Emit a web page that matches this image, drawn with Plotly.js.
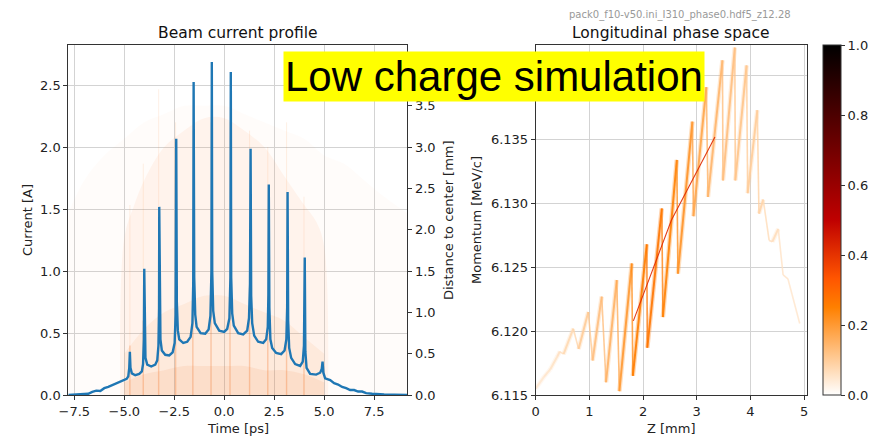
<!DOCTYPE html>
<html><head><meta charset="utf-8">
<script src="https://cdn.plot.ly/plotly-3.0.1.min.js"></script>
<style>body{margin:0;padding:0;background:#fff}#plot{width:869px;height:438px}</style>
</head><body><div id="plot"></div>
<script>
// ---- Beam current profile (time [ps], current [A]) ----
const cur_t = [-7.80,-7.50,-7.20,-7.00,-6.80,-6.60,-6.40,-6.20,-6.00,-5.80,-5.60,-5.40,-5.20,-5.00,-4.88,-4.80,-4.75,-4.72,-4.69,-4.62,-4.45,-4.25,-4.12,-4.06,-4.02,-4.00,-3.98,-3.94,-3.85,-3.65,-3.45,-3.35,-3.29,-3.26,-3.25,-3.23,-3.19,-3.12,-2.95,-2.75,-2.58,-2.48,-2.43,-2.40,-2.37,-2.32,-2.25,-2.05,-1.85,-1.68,-1.59,-1.55,-1.53,-1.50,-1.45,-1.38,-1.18,-0.95,-0.78,-0.69,-0.64,-0.62,-0.60,-0.55,-0.47,-0.25,0.00,0.15,0.26,0.31,0.33,0.35,0.40,0.48,0.70,0.95,1.15,1.24,1.29,1.32,1.35,1.40,1.50,1.70,1.95,2.10,2.18,2.21,2.23,2.26,2.31,2.40,2.60,2.85,3.02,3.11,3.15,3.17,3.20,3.25,3.35,3.55,3.80,3.93,3.99,4.03,4.06,4.12,4.30,4.60,4.80,4.88,4.92,4.96,5.05,5.30,5.50,5.70,5.90,6.10,6.30,6.50,6.70,6.90,7.10,7.40,7.70,8.00,8.50,9.16];
const cur_i = [0.000,0.004,0.008,0.012,0.010,0.025,0.035,0.033,0.055,0.065,0.080,0.095,0.110,0.120,0.130,0.150,0.22,0.35,0.22,0.175,0.160,0.170,0.19,0.25,0.45,1.02,0.50,0.30,0.245,0.230,0.245,0.28,0.40,0.70,1.52,0.75,0.45,0.36,0.325,0.320,0.345,0.42,0.65,2.07,0.75,0.52,0.45,0.42,0.43,0.47,0.58,0.90,2.53,0.95,0.65,0.55,0.50,0.495,0.53,0.64,1.0,2.69,1.0,0.68,0.58,0.52,0.51,0.535,0.62,0.95,2.61,0.95,0.66,0.56,0.50,0.49,0.52,0.62,0.90,1.99,0.80,0.58,0.48,0.43,0.42,0.45,0.55,0.80,1.70,0.70,0.45,0.38,0.34,0.33,0.36,0.45,0.70,1.64,0.60,0.38,0.30,0.25,0.235,0.27,0.40,1.11,0.35,0.22,0.17,0.165,0.18,0.21,0.27,0.18,0.135,0.120,0.095,0.085,0.065,0.055,0.040,0.040,0.028,0.028,0.015,0.010,0.006,0.004,0.002,0.000];

// ---- particle cloud (distance to center [mm]) envelopes ----
const cloud_outer_t   = [-7.8,-7,-6,-5,-4,-3,-2,-1,0,1,2,3,4,5,6,7,8,9.16];
const cloud_outer_top = [2.2,2.6,2.9,3.1,3.3,3.4,3.5,3.5,3.5,3.4,3.3,3.2,3.1,2.9,2.8,2.6,2.4,2.2];
const cloud_dome_t    = [-5.2,-5.0,-4.5,-4,-3,-2,-1,0,1,2,3,4,4.6,5.0,5.2];
const cloud_dome_top  = [0,1.9,2.3,2.6,3.0,3.2,3.35,3.35,3.2,3.0,2.65,2.3,2.1,1.8,0];
const cloud_core_t    = [-5,-4,-3,-2,-1,0,1,2,3,4,5];
const cloud_core_top  = [0.5,0.8,1.0,1.1,1.2,1.2,1.1,1.0,0.9,0.7,0.5];
const cloud_base_t    = [-5,-4,-3,-2,-1,0,1,2,3,4,5];
const cloud_base_top  = [0.15,0.25,0.3,0.35,0.35,0.35,0.35,0.3,0.3,0.25,0.15];
const streak_t = [-4.72,-4.05,-3.28,-2.43,-1.57,-0.66,0.29,1.27,2.18,3.12,3.99];
const streak_h = [2.3,2.8,3.7,3.3,3.2,3.3,3.3,3.2,3.0,3.3,2.4];
const streak_low = [0.6,0.9,1.2,1.3,1.3,1.3,1.3,1.3,1.2,1.1,0.9];

// ---- Longitudinal phase space (Z [mm], momentum [MeV/c], density) ----
const ps_z = [0.00,0.15,0.27,0.40,0.45,0.52,0.70,0.80,0.98,1.06,1.23,1.31,1.51,1.56,1.79,1.81,2.07,2.08,2.35,2.37,2.63,2.65,2.92,2.94,3.18,3.21,3.48,3.49,3.71,3.72,3.93,3.95,4.13,4.16,4.24,4.35,4.41,4.52,4.61,4.70,4.92];
const ps_p = [6.1155,6.1164,6.1170,6.1180,6.1184,6.1182,6.1202,6.1186,6.1215,6.1177,6.1227,6.1160,6.1240,6.1153,6.1253,6.1165,6.1268,6.1187,6.1296,6.1211,6.1334,6.1245,6.1364,6.1290,6.1391,6.1305,6.1412,6.1318,6.1422,6.1318,6.1408,6.1308,6.1373,6.1292,6.1303,6.1271,6.1270,6.1280,6.1244,6.1241,6.1206];
const ps_d = [0.04,0.05,0.05,0.06,0.06,0.07,0.08,0.09,0.11,0.12,0.13,0.14,0.16,0.18,0.22,0.24,0.27,0.27,0.27,0.25,0.24,0.22,0.20,0.18,0.17,0.15,0.14,0.13,0.12,0.12,0.11,0.10,0.10,0.09,0.08,0.07,0.07,0.06,0.06,0.06,0.05];
const core_z = [1.82,2.53,3.34];
const core_p = [6.1208,6.1287,6.1352];
const core_d = 0.42;

const xTicks  = [-7.5,-5.0,-2.5,0.0,2.5,5.0,7.5];
const cbTicks = [0.0,0.2,0.4,0.6,0.8,1.0];

// gist_heat_r
const heatScale = [[0,'rgb(255,255,255)'],[0.25,'rgb(255,128,0)'],[1/3,'rgb(255,85,0)'],[0.5,'rgb(191,0,0)'],[1,'rgb(0,0,0)']];
function heatColor(v){
  const x = 1 - v;
  const r = Math.min(1,1.5*x), g = Math.max(0,Math.min(1,2*x-1)), b = Math.max(0,Math.min(1,4*x-3));
  return [Math.round(255*r),Math.round(255*g),Math.round(255*b)];
}

const traces = [];
function fillLayer(t,top,color){
  traces.push({x:t,y:top,xaxis:'x',yaxis:'y',type:'scatter',mode:'lines',fill:'tozeroy',line:{width:0,shape:'spline'},fillcolor:color,hoverinfo:'skip'});
}
fillLayer(cloud_outer_t,cloud_outer_top,'rgba(255,170,110,0.035)');
fillLayer(cloud_dome_t,cloud_dome_top,'rgba(250,160,100,0.09)');
fillLayer(cloud_core_t,cloud_core_top,'rgba(245,140,70,0.09)');
fillLayer(cloud_base_t,cloud_base_top,'rgba(240,120,50,0.10)');
const sx=[],sy=[],lx=[],ly=[];
streak_t.forEach((t,i)=>{sx.push(t,t,null);sy.push(0,streak_h[i],null);lx.push(t,t,null);ly.push(0,streak_low[i],null);});
traces.push({x:sx,y:sy,xaxis:'x',yaxis:'y',type:'scatter',mode:'lines',line:{width:1,color:'rgba(250,130,50,0.12)'},hoverinfo:'skip'});
traces.push({x:lx,y:ly,xaxis:'x',yaxis:'y',type:'scatter',mode:'lines',line:{width:1.5,color:'rgba(240,110,30,0.22)'},hoverinfo:'skip'});
// current profile line
traces.push({x:cur_t,y:cur_i,xaxis:'x',yaxis:'y2',type:'scatter',mode:'lines',line:{color:'#1f77b4',width:2.4}});

// phase space segments: rising strokes dense/broad, falling strokes thinner
for(let i=0;i<ps_z.length-1;i++){
  const d = (ps_d[i]+ps_d[i+1])/2;
  const c = heatColor(d);
  const rising = ps_p[i+1] > ps_p[i];
  const seg = {x:[ps_z[i],ps_z[i+1]],y:[ps_p[i],ps_p[i+1]],xaxis:'x2',yaxis:'y3',type:'scatter',mode:'lines',hoverinfo:'skip'};
  if(rising){
    traces.push(Object.assign({},seg,{line:{width:4.5,color:`rgba(${c[0]},${c[1]},${c[2]},0.3)`}}));
    traces.push(Object.assign({},seg,{line:{width:2,color:`rgba(${c[0]},${c[1]},${c[2]},0.9)`}}));
  } else {
    traces.push(Object.assign({},seg,{line:{width:1.6,color:`rgba(${c[0]},${c[1]},${c[2]},0.75)`}}));
  }
}
{ const c = heatColor(core_d);
  traces.push({x:core_z,y:core_p,xaxis:'x2',yaxis:'y3',type:'scatter',mode:'lines',line:{width:1.1,color:`rgba(${c[0]},${c[1]},${c[2]},0.9)`},hoverinfo:'skip'}); }
// colorbar carrier
traces.push({x:[ps_z[0]],y:[ps_p[0]],xaxis:'x2',yaxis:'y3',type:'scatter',mode:'markers',
  marker:{size:1,opacity:0,color:[0],cmin:0,cmax:1,colorscale:heatScale,showscale:true,
    colorbar:{x:823/869,xanchor:'left',xpad:0,ypad:0,y:1-395/438,yanchor:'bottom',lenmode:'pixels',len:350,thickness:18,thicknessmode:'pixels',
      outlinewidth:1,outlinecolor:'#333',tickvals:cbTicks,tickformat:'.1f',ticks:'outside',ticklen:4,tickcolor:'#333',tickfont:{size:13,color:'#222'}}},hoverinfo:'skip'});

const ydom = [1-395/438, 1-45/438];
const axCommon = {showline:true,linecolor:'#333',linewidth:1,ticks:'outside',ticklen:4,tickcolor:'#333',zeroline:false,tickfont:{size:13,color:'#222'},gridcolor:'#d3d3d3',gridwidth:1};
const layout = {
  width:869,height:438,margin:{l:0,r:0,t:0,b:0},paper_bgcolor:'#fff',plot_bgcolor:'rgba(0,0,0,0)',showlegend:false,
  font:{family:'DejaVu Sans',size:13,color:'#222'},
  xaxis:Object.assign({},axCommon,{domain:[68.3/869,407.3/869],range:[-7.8,9.16],tickvals:xTicks,tickformat:'.1f',showgrid:true,mirror:true,anchor:'y'}),
  yaxis:Object.assign({},axCommon,{domain:ydom,range:[0,4.236],side:'right',anchor:'x',dtick:0.5,tick0:0,tickformat:'.1f',showgrid:false}),
  yaxis2:Object.assign({},axCommon,{domain:ydom,range:[0,2.828],side:'left',overlaying:'y',anchor:'x',dtick:0.5,tick0:0,tickformat:'.1f',showgrid:true}),
  xaxis2:Object.assign({},axCommon,{domain:[535.7/869,806.7/869],range:[0,5.05],dtick:1,tick0:0,showgrid:true,mirror:true,anchor:'y3'}),
  yaxis3:Object.assign({},axCommon,{domain:ydom,range:[6.115,6.1424],dtick:0.005,tick0:6.115,tickformat:'.3f',showgrid:true,mirror:true,anchor:'x2'}),
  annotations:[
    {text:'Beam current profile',xref:'paper',yref:'paper',x:237.8/869,y:1-33/438,showarrow:false,font:{size:15.5,color:'#111'},xanchor:'center',yanchor:'middle'},
    {text:'Longitudinal phase space',xref:'paper',yref:'paper',x:671.2/869,y:1-33/438,showarrow:false,font:{size:15.5,color:'#111'},xanchor:'center',yanchor:'middle'},
    {text:'pack0_f10-v50.ini_I310_phase0.hdf5_z12.28',xref:'paper',yref:'paper',x:680/869,y:1-15/438,showarrow:false,font:{size:10,color:'#999'},xanchor:'center',yanchor:'middle'},
    {text:'Time [ps]',xref:'paper',yref:'paper',x:237.8/869,y:1-428/438,showarrow:false,font:{size:13,color:'#222'},xanchor:'center',yanchor:'middle'},
    {text:'Z [mm]',xref:'paper',yref:'paper',x:671.2/869,y:1-428/438,showarrow:false,font:{size:13,color:'#222'},xanchor:'center',yanchor:'middle'},
    {text:'Current [A]',xref:'paper',yref:'paper',x:27/869,y:1-220/438,showarrow:false,textangle:-90,font:{size:13,color:'#222'},xanchor:'center',yanchor:'middle'},
    {text:'Distance to center [mm]',xref:'paper',yref:'paper',x:448/869,y:1-220/438,showarrow:false,textangle:-90,font:{size:13,color:'#222'},xanchor:'center',yanchor:'middle'},
    {text:'Momentum [MeV/c]',xref:'paper',yref:'paper',x:476/869,y:1-220/438,showarrow:false,textangle:-90,font:{size:13,color:'#222'},xanchor:'center',yanchor:'middle'},
    {text:'Low charge simulation',xref:'paper',yref:'paper',x:493.5/869,y:1-76.5/438,showarrow:false,bgcolor:'#ffff00',borderpad:1,
      font:{family:'Liberation Sans, Arial',size:42,color:'#000'},xanchor:'center',yanchor:'middle'}
  ]
};
Plotly.newPlot('plot',traces,layout,{displayModeBar:false,staticPlot:true});
</script></body></html>
